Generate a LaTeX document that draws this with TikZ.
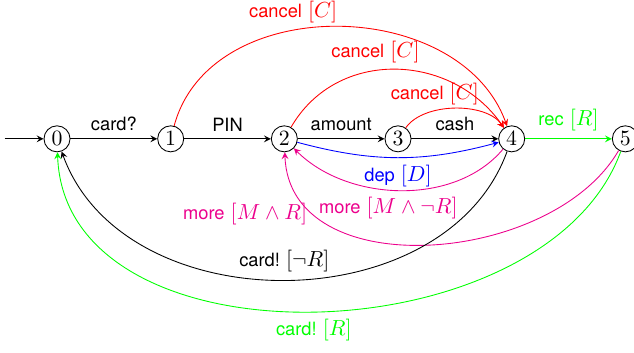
\documentclass[tikz,border=0pt]{standalone}
\usepackage{fontspec}
\setsansfont{TeX Gyre Heros}[Scale=0.84]
\usepackage{amsmath,amssymb}
\usetikzlibrary{arrows,positioning}
\definecolor{morecol}{RGB}{236,0,140}
\newcommand{\grd}[1]{$\;[#1]$}

\begin{document}
\begin{tikzpicture}[node distance = 1.4cm, auto, >=stealth, font=\sffamily]

\useasboundingbox (-0.92,-3.44) rectangle (9.31,2.24);

\tikzstyle{stnode} = [circle, draw, minimum size = 0.42cm, inner sep = 0pt]

% states
\node [stnode] (s0) {$0$};
\node [stnode, right = of s0] (s1) {$1$};
\node [stnode, right = of s1] (s2) {$2$};
\node [stnode, right = of s2] (s3) {$3$};
\node [stnode, right = of s3] (s4) {$4$};
\node [stnode, right = of s4] (s5) {$5$};
\coordinate [left = 0.63cm of s0] (init);

% main line
\path[->] (init) edge (s0);
\path[->] (s0) edge node {card?} (s1);
\path[->] (s1) edge node {PIN} (s2);
\path[->] (s2) edge node {amount} (s3);
\path[->] (s3) edge node {cash} (s4);
\path[->, green] (s4) edge node {rec\grd{R}} (s5);

% cancel
\path[->, red] (s1) edge[out=75, in=110, looseness=1.07] node[pos=0.4, above] {cancel\grd{C}} (s4);
\path[->, red] (s2) edge[out=60, in=125, looseness=1.1] node[pos=0.42, above] {cancel\grd{C}} (s4);
\path[->, red] (s3) edge[out=55, in=125, looseness=0.82] node[pos=0.33, above=-1pt] {cancel\grd{C}} (s4);

% deposit and more
\path[->, blue] (s2) edge[bend right = 15] node[midway, below] {dep\grd{D}} (s4);
\path[->, morecol] (s4) edge[out=-130, in=-45, looseness=0.92] node[pos=0.55, below] {more\grd{M\wedge\neg R}} (s2);
\path[->, morecol] (s5) edge[out=-120, in=-88, looseness=1.02] node[pos=0.8, left] {more\grd{M\wedge R}} (s2);

% card back
\path[->] (s4) edge[out=-110, in=-70, looseness=1.05] node[midway, above] {card!\grd{\neg R}} (s0);
\path[->, green] (s5) edge[out=-110, in=-88, looseness=1.0] node[midway, below] {card!\grd{R}} (s0);

\end{tikzpicture}
\end{document}
